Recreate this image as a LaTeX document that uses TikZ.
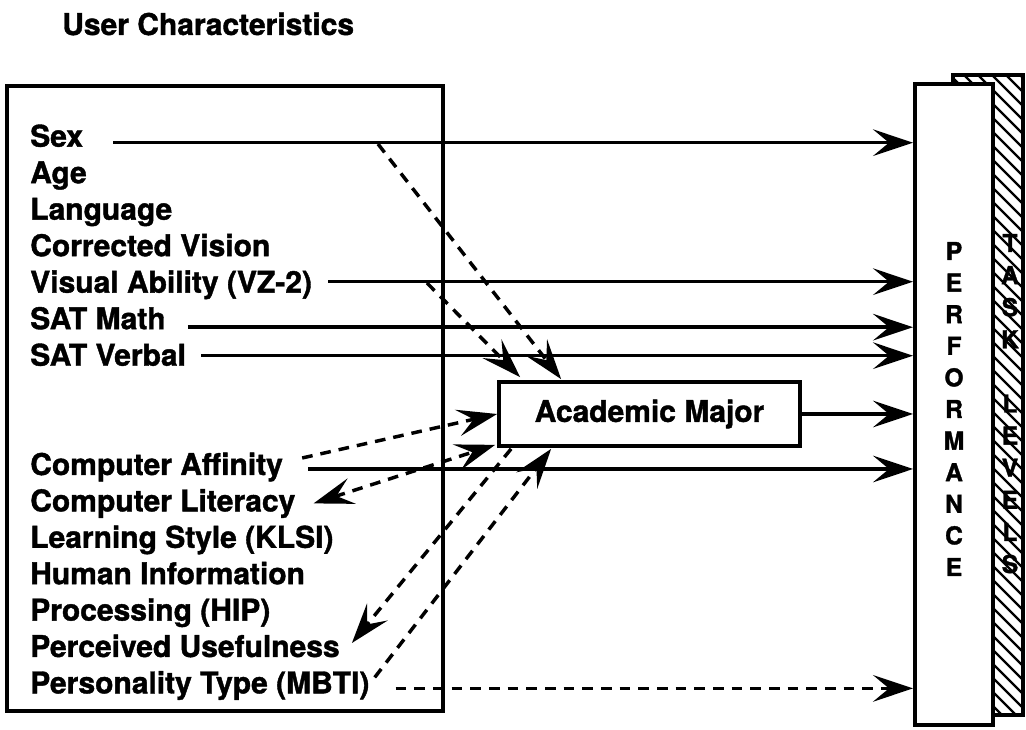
\documentclass[tikz,border=0pt]{standalone}
\usepackage{fontspec}
\setmainfont{TeX Gyre Heros}[BoldFeatures={FakeBold=1.3}]
\usetikzlibrary{arrows.meta,positioning,calc}

\tikzset{
    lbl/.style={anchor=base west,inner sep=0pt,font=\fontsize{22.5}{27}\selectfont\bfseries},
    ltr/.style={anchor=base,inner sep=0pt,font=\fontsize{18.5}{20}\selectfont\bfseries},
    tip/.style={-{Stealth[length=30pt,width=20pt,inset=12pt]}},
    con/.style={line width=2.6pt,tip},
    dcon/.style={con,dash pattern=on 8pt off 6pt},
}

\begin{document}
\begin{tikzpicture}[x=0.75pt,y=-0.75pt]
    \useasboundingbox (0,0) rectangle (1026,730);

    \node[lbl] at (62,35) (title) {User Characteristics};
    \draw[line width=3pt] (7,86) rectangle (443,711);

    % first set
    \foreach \nm/\txt [count=\i from 0] in {sex/Sex,age/Age,lang/Language,vision/Corrected Vision,visual/Visual Ability (VZ-2),math/SAT Math,verbal/SAT Verbal}
    {%
    \node[lbl] at (30,146.7+36.5*\i) (\nm) {\txt};
    }%
    % second set
    \foreach \nm/\txt [count=\i from 0] in {aff/Computer Affinity,lit/Computer Literacy,klsi/Learning Style (KLSI),hip/Human Information,hipb/Processing (HIP),use/Perceived Usefulness,mbti/Personality Type (MBTI)}
    {%
    \node[lbl] at (30,475+36.4*\i) (\nm) {\txt};
    }%

    % task levels, hatched
    \begin{scope}
    \clip (953,75) rectangle (1023,715);
    \foreach \k in {0,...,52}
        \draw[line width=1.8pt] (953,-20+14*\k) -- ++(90,90);
    \end{scope}
    \draw[line width=2.5pt] (953,75) rectangle (1023,715);
    \foreach \l [count=\i from 0] in {T,A,S,K,{},L,E,V,E,L,S}
        \node[ltr] at (1010,252+32.1*\i) (t\i) {\l};

    \node[draw,fill=white,line width=3pt,minimum width=58.5pt,minimum height=480.75pt,inner sep=0pt] at (954,404.5) (perf) {};
    \foreach \l [count=\i from 0] in {P,E,R,F,O,R,M,A,N,C,E}
        \node[ltr] at (954,260+31.6*\i) (p\i) {\l};

    \node[draw,line width=2.8pt,minimum width=225.75pt,minimum height=48pt,font=\fontsize{22.5}{27}\selectfont\bfseries] at (649.5,414) (am) {Academic Major};

    % connections
    \coordinate (s1) at ($(sex.base east)+(30,-4)$);
    \coordinate (s2) at ($(visual.base east)+(16,-11)$);
    \coordinate (s3) at ($(math.base east)+(22,-2)$);
    \coordinate (s4) at ($(verbal.base east)+(15,-10)$);
    \coordinate (s5) at ($(aff.base east)+(25,-6)$);
    \coordinate (s6) at ($(mbti.base east)+(26,-5)$);
    \foreach \s in {s1,s2,s3,s4,s5}
        \draw[con] (\s) -- (\s -| perf.west);
    \draw[dcon] (s6) -- (s6 -| perf.west);
    \draw[con] (am.east) -- (am.east -| perf.west);

    \coordinate (f1) at (378,144);
    \coordinate (f2) at (427,283);
    \draw[dcon] (f1) -- ($(am.north west)+(64,-1)$);
    \draw[dcon] (f2) -- ($(am.north west)+(23,-3)$);
    \draw[dcon] ($(aff.base east)+(19,-17)$) -- (am.west);
    \draw[dcon,{Stealth[length=30pt,width=20pt,inset=12pt]}-{Stealth[length=30pt,width=20pt,inset=12pt]}] ($(lit.base east)+(18,-8)$) -- ($(am.south west)+(-2,-3)$);
    \draw[dcon] ($(am.south west)+(14,1)$) -- ($(use.base east)+(12,-14)$);
    \draw[dcon] ($(mbti.base east)+(5,-16)$) -- ($(am.south west)+(54,1)$);
\end{tikzpicture}
\end{document}
